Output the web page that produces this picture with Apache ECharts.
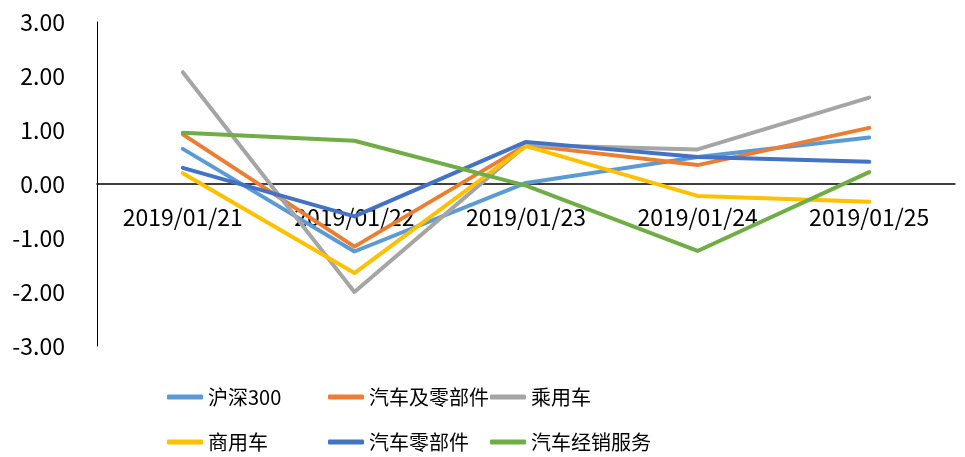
<!DOCTYPE html>
<html>
<head>
<meta charset="utf-8">
<script src="https://cdn.jsdelivr.net/npm/echarts@6/dist/echarts.min.js"></script>
<style>
html, body { margin: 0; padding: 0; background: #fff; }
#main { width: 965px; height: 457px; }
</style>
</head>
<body>
<div id="main"></div>
<script>
// 日期
var dates = ["2019/01/21", "2019/01/22", "2019/01/23", "2019/01/24", "2019/01/25"];
var yTicks = [-3, -2, -1, 0, 1, 2, 3];

var hs300 = [0.65, -1.25, 0.02, 0.50, 0.86];
var autoAll = [0.92, -1.16, 0.72, 0.35, 1.04];
var passenger = [2.07, -2.00, 0.72, 0.64, 1.60];
var commercial = [0.20, -1.65, 0.70, -0.22, -0.33];
var autoParts = [0.30, -0.60, 0.78, 0.50, 0.41];
var dealer = [0.95, 0.80, -0.03, -1.24, 0.22];

var names = ["沪深300", "汽车及零部件", "乘用车", "商用车", "汽车零部件", "汽车经销服务"];
var colors = ["#5B9BD5", "#ED7D31", "#A5A5A5", "#FFC000", "#4472C4", "#70AD47"];
var values = [hs300, autoAll, passenger, commercial, autoParts, dealer];

var font = "'Noto Sans CJK SC', 'Noto Sans', sans-serif";
var chart = echarts.init(document.getElementById("main"));

var legendPos = [
    [167, 387], [328, 387], [490, 387],
    [167, 432], [328, 432], [490, 432]
];
var legends = names.map(function (n, i) {
    return {
        data: [n],
        left: legendPos[i][0],
        top: legendPos[i][1],
        icon: "roundRect",
        itemWidth: 36,
        itemHeight: 5,
        itemGap: 4,
        padding: 0,
        selectedMode: false,
        textStyle: { fontFamily: font, fontSize: 20, color: "#000" }
    };
});

chart.setOption({
    animation: false,
    legend: legends,
    grid: { left: 97, right: 10, top: 22, bottom: 111 },
    xAxis: {
        type: "category",
        data: dates,
        boundaryGap: true,
        axisLine: { onZero: true, lineStyle: { color: "#000", width: 1.5 } },
        axisTick: { show: false },
        // 标签放在零线下方
        axisLabel: { margin: -140, fontFamily: font, fontSize: 23, color: "#000" }
    },
    yAxis: {
        type: "value",
        min: yTicks[0],
        max: yTicks[yTicks.length - 1],
        interval: 1,
        axisLine: { show: true, lineStyle: { color: "#000", width: 1 } },
        axisTick: { show: false },
        splitLine: { show: false },
        axisLabel: {
            margin: 32,
            fontFamily: font,
            fontSize: 23,
            color: "#000",
            formatter: function (v) { return v.toFixed(2); }
        }
    },
    series: names.map(function (n, i) {
        return {
            name: n,
            type: "line",
            data: values[i],
            symbol: "none",
            itemStyle: { color: colors[i] },
            lineStyle: { color: colors[i], width: 4, cap: "round", join: "round" }
        };
    })
});
</script>
</body>
</html>
